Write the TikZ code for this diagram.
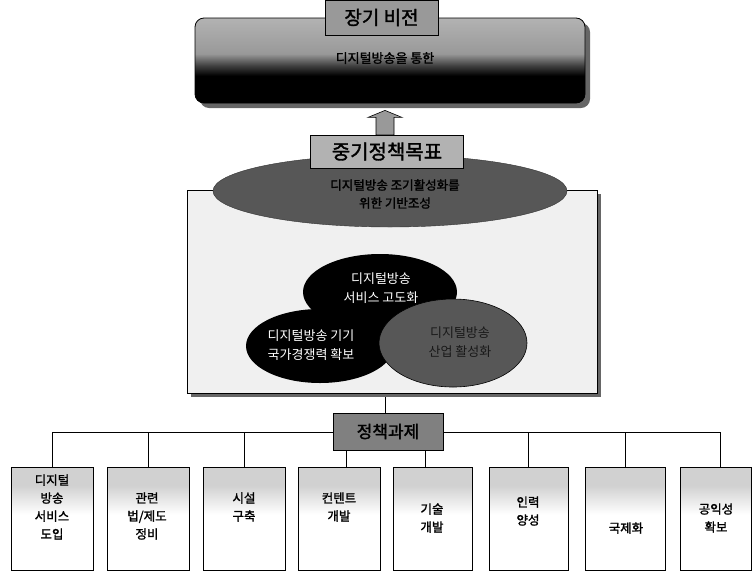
\documentclass[tikz,border=0pt]{standalone}
\usepackage{fontspec}
\setmainfont{Noto Sans CJK KR}
\newfontfamily\krb{Noto Sans CJK KR}[FakeBold=1.6]
\usetikzlibrary{shapes.geometric,shadows,calc}

\pgfdeclareverticalshading{visionshade}{100bp}{color(0bp)=(black); color(41bp)=(black); color(47bp)=(black!75); color(54bp)=(black!40); color(75bp)=(black!30); color(100bp)=(black!30)}
\pgfdeclareverticalshading{taskshade}{100bp}{color(0bp)=(white); color(52bp)=(white); color(66bp)=(black!18); color(100bp)=(black!18)}

\tikzset{
  labelbox/.style={draw=black, line width=0.8pt, inner sep=0pt},
  visionrect/.style={draw=black, line width=0.8pt, rounded corners=9pt, shading=visionshade,
     drop shadow={shadow xshift=5pt, shadow yshift=-5pt, fill=black!60, opacity=1}},
  panel/.style={draw=black, line width=0.8pt, fill=black!6,
     drop shadow={shadow xshift=4pt, shadow yshift=-4pt, fill=black!60, opacity=1}},
  blob/.style={ellipse, inner sep=0pt},
  taskbox/.style={draw=black, line width=0.7pt, shading=taskshade, minimum width=82pt, minimum height=103pt, inner sep=0pt},
  tasktext/.style={font=\krb\fontsize{12.5}{18}\selectfont, align=center, inner sep=0pt},
  conn/.style={draw=black, line width=0.7pt},
  blockarrow/.style={draw=black, line width=0.6pt, fill=black!40}
}

\begin{document}
\begin{tikzpicture}[x=1pt,y=-1pt]
\useasboundingbox (0,0) rectangle (752,571);

% long-term vision
\node[visionrect, minimum width=390pt, minimum height=85pt] (vision) at (390,60.5) {};
\node[labelbox, fill=black!40, minimum width=113pt, minimum height=35pt, font=\krb\fontsize{19}{20}\selectfont] (vtitle) at (381.5,17.5) {장기 비전};
\node[font=\krb\fontsize{13}{15}\selectfont, inner sep=0pt] (vtext) at (385,58) {디지털방송을 통한};

% mid-term goal box (placeholder for the arrow)
\node[minimum width=153pt, minimum height=33pt, inner sep=0pt] (mid) at (387,151.5) {};

% block arrow from mid box to vision
\coordinate (abase) at ($(mid.north)+(-2,0)$);
\coordinate (atip) at ($(vision.south)+(-5,7)$);
\draw[blockarrow] ($(abase)+(-9,0)$) -- ($(abase|-atip)+(-9,7)$) -- ($(abase|-atip)+(-17,7)$) -- (abase|-atip) -- ($(abase|-atip)+(17,7)$) -- ($(abase|-atip)+(9,7)$) -- ($(abase)+(9,0)$) -- cycle;

% panel
\node[panel, minimum width=410pt, minimum height=203pt, inner sep=0pt] (panel) at (392,291.5) {};

% goal ellipse
\node[blob, fill=black!66, draw=black!80, minimum width=354pt, minimum height=72pt] (goal) at (390,191) {};
\node[font=\krb\fontsize{12.5}{18}\selectfont, align=center, inner sep=0pt] (goaltext) at (395,194) {디지털방송 조기활성화를\\위한 기반조성};
\node[labelbox, fill=black!30, minimum width=153pt, minimum height=33pt, font=\krb\fontsize{20}{22}\selectfont] (midbox) at (mid) {중기정책목표};

% three ellipses
\node[blob, fill=black, minimum width=154pt, minimum height=76pt] (c1) at (380,292) {};
\node[blob, fill=black, minimum width=148pt, minimum height=74pt] (c2) at (320,346) {};
\node[blob, fill=black!66, draw=black, line width=0.6pt, minimum width=148pt, minimum height=88pt] (c3) at (453,343) {};
\node[font=\fontsize{13}{19}\selectfont, text=white, align=center, inner sep=0pt] (c1t) at (381,288) {디지털방송\\서비스 고도화};
\node[font=\fontsize{13}{19}\selectfont, text=white, align=center, inner sep=0pt] (c2t) at (311,345) {디지털방송 기기\\국가경쟁력 확보};
\node[font=\fontsize{13}{19}\selectfont, text=black!90, align=center, inner sep=0pt] (c3t) at (460,342) {디지털방송\\산업 활성화};

% policy tasks
\node[labelbox, fill=black!50, minimum width=110pt, minimum height=37pt, font=\krb\fontsize{17}{19}\selectfont] (task) at (388,431.5) {정책과제};

\node[taskbox] (b1) at (52,518.5) {};
\node[taskbox] (b2) at (148,518.5) {};
\node[taskbox] (b3) at (244.5,518.5) {};
\node[taskbox] (b4) at (339,518.5) {};
\node[taskbox, minimum width=79pt] (b5) at (433,518.5) {};
\node[taskbox, minimum width=79pt] (b6) at (528.5,518.5) {};
\node[taskbox, minimum width=80pt] (b7) at (625,518.5) {};
\node[taskbox, minimum width=71pt] (b8) at (715.5,518.5) {};

\node[tasktext] (l1) at (52,507) {디지털\\방송\\서비스\\도입};
\node[tasktext] (l2) at (147,516) {관련\\법/제도\\정비};
\node[tasktext] (l3) at (244,507) {시설\\구축};
\node[tasktext] (l4) at (339,507) {컨텐트\\개발};
\node[tasktext] (l5) at (432,518) {기술\\개발};
\node[tasktext] (l6) at (528,511) {인력\\양성};
\node[tasktext] (l7) at (626,528) {국제화};
\node[tasktext] (l8) at (716,518) {공익성\\확보};

% connectors
\draw[conn] (panel.south) ++(-7,4) coordinate (pb) -- (pb|-task.north);
\coordinate (hl) at (0,432);
\draw[conn] (b1.north|-hl) -- (task.west|-hl);
\draw[conn] (task.east|-hl) -- ([xshift=5pt]b8.north|-hl);
\draw[conn] (b1.north|-hl) -- (b1.north);
\draw[conn] (b2.north|-hl) -- (b2.north);
\draw[conn] (b3.north|-hl) -- (b3.north);
\draw[conn] ([xshift=7pt]b4.north|-task.south) -- ([xshift=7pt]b4.north);
\draw[conn] ([xshift=-8pt]b5.north|-task.south) -- ([xshift=-8pt]b5.north);
\draw[conn] (b6.north|-hl) -- (b6.north);
\draw[conn] (b7.north|-hl) -- (b7.north);
\draw[conn] ([xshift=5pt]b8.north|-hl) -- ([xshift=5pt]b8.north);
\end{tikzpicture}
\end{document}
